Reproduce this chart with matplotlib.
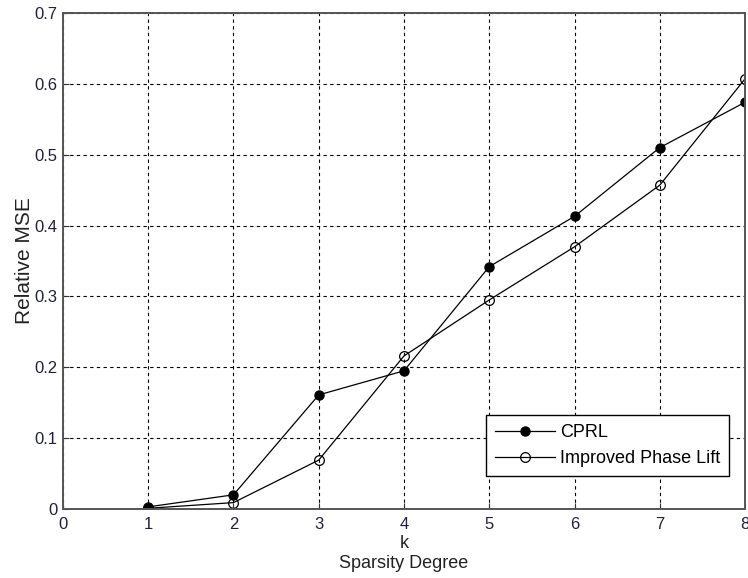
import matplotlib
matplotlib.use("Agg")
import matplotlib.pyplot as plt

k = [1, 2, 3, 4, 5, 6, 7, 8]
cprl = [0.003, 0.020, 0.161, 0.195, 0.342, 0.413, 0.510, 0.574]
ipl = [0.001, 0.009, 0.069, 0.216, 0.295, 0.370, 0.457, 0.607]
xticks = [0, 1, 2, 3, 4, 5, 6, 7, 8]
yticks = [0, 0.1, 0.2, 0.3, 0.4, 0.5, 0.6, 0.7]
ytick_labels = ["0", "0.1", "0.2", "0.3", "0.4", "0.5", "0.6", "0.7"]

plt.rcParams['font.family'] = ["Liberation Sans", "DejaVu Sans"]

fig = plt.figure(figsize=(7.48, 5.78), dpi=100)
ax = fig.add_axes([0.0842, 0.1194, 0.9118, 0.8581])

ax.plot(k, cprl, color='black', lw=0.9, marker='o', ms=6.5, mfc='black', mec='black', label='CPRL')
ax.plot(k, ipl, color='black', lw=0.9, marker='o', ms=7, mfc='none', mec='black', mew=0.9,
        label='Improved Phase Lift')

ax.set_xlim(0, 8)
ax.set_ylim(0, 0.7)
ax.set_xticks(xticks)
ax.set_yticks(yticks)
ax.set_yticklabels(ytick_labels)
ax.grid(True, color='black', linestyle=(0, (3, 3)), linewidth=0.8)
ax.tick_params(direction='in', length=4, labelsize=12, colors='#333333', labelcolor='#202040')
ax.tick_params(axis='x', pad=6)
ax.tick_params(axis='y', pad=4)
for s in ax.spines.values():
    s.set_color('#555555')
    s.set_linewidth(1.4)

ax.set_xlabel("k\nSparsity Degree", fontsize=13, color='#222222', labelpad=2, linespacing=1.25)
ax.set_ylabel("Relative MSE", fontsize=15, color='#222222', labelpad=0)

leg = ax.legend(loc='lower right', bbox_to_anchor=(0.977, 0.066), fontsize=13, frameon=True,
                fancybox=False, edgecolor='black', framealpha=1, borderpad=0.5,
                handlelength=3.3, handletextpad=0.3, labelspacing=0.5, borderaxespad=0)
leg.get_frame().set_linewidth(1.0)

fig.savefig("out.png", dpi=100)
